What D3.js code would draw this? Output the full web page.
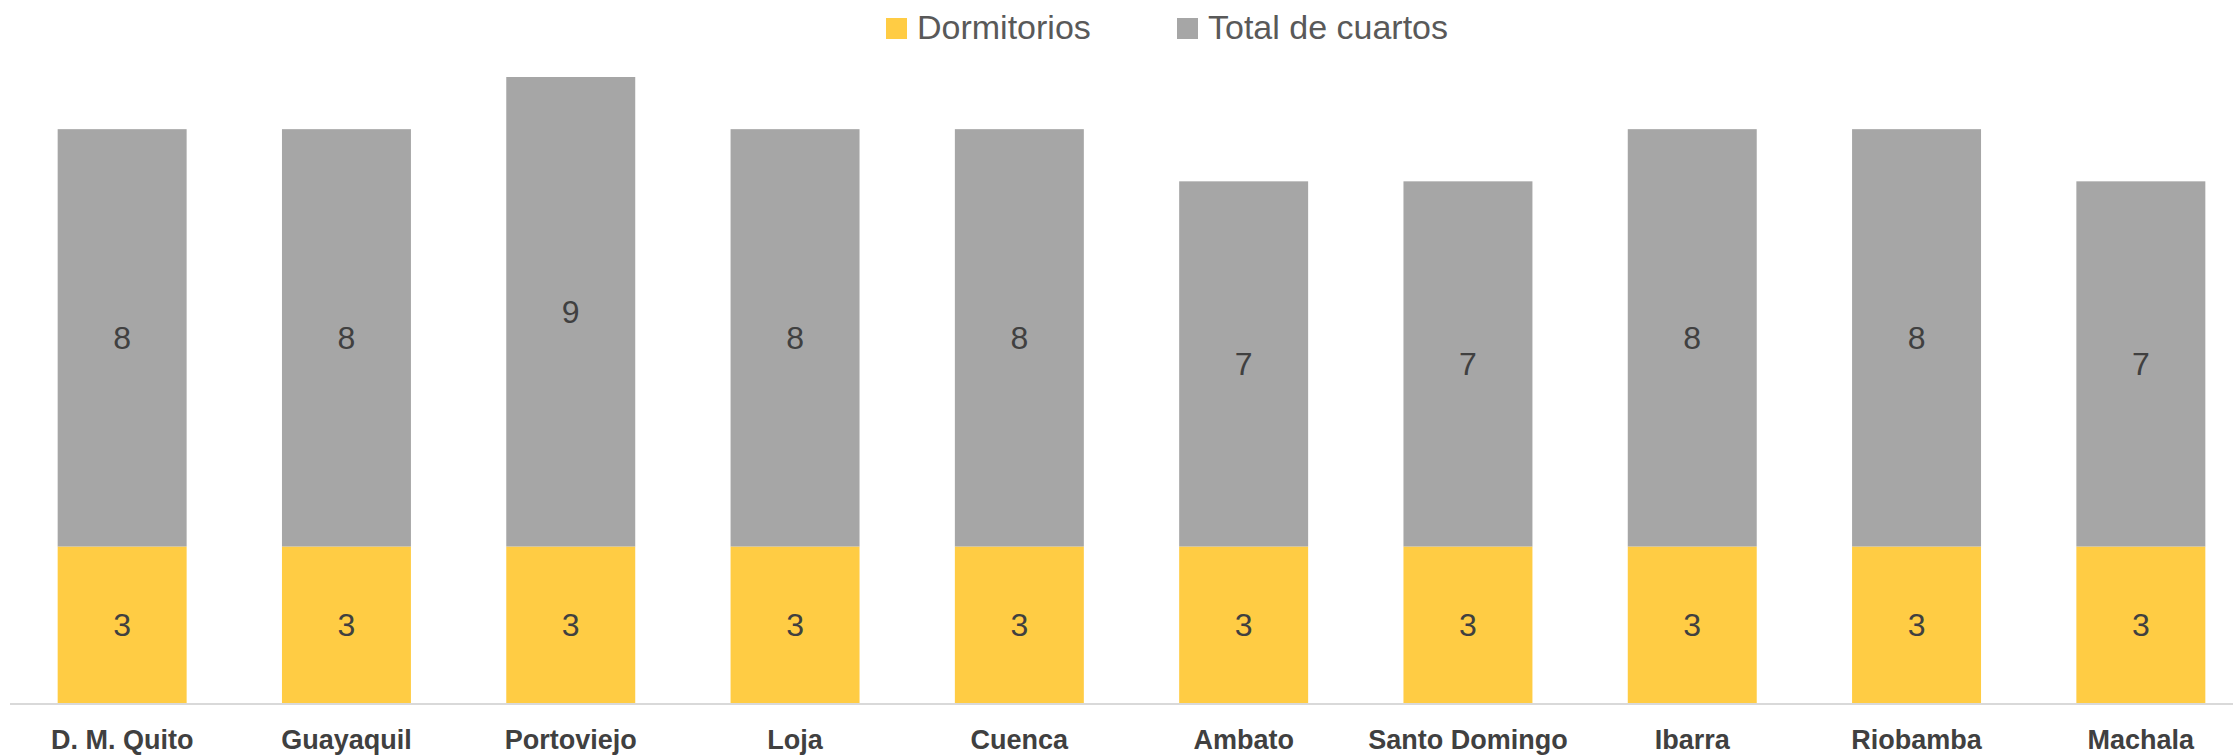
<!DOCTYPE html>
<meta charset="utf-8">
<style>
    body { margin: 0; background: #fff; }
    svg { display: block; }
</style>
<script src="https://d3js.org/d3.v7.min.js"></script>
<body>
<div id="chart"></div>
<script>
    // ciudades y valores (dormitorios abajo, total de cuartos encima)
    var ciudades = ["D. M. Quito", "Guayaquil", "Portoviejo", "Loja", "Cuenca",
                    "Ambato", "Santo Domingo", "Ibarra", "Riobamba", "Machala"];
    var dormitorios = [3, 3, 3, 3, 3, 3, 3, 3, 3, 3];
    var totalCuartos = [8, 8, 9, 8, 8, 7, 7, 8, 8, 7];
    var series = ["Dormitorios", "Total de cuartos"];

    var colores = { "Dormitorios": "#FFCC44", "Total de cuartos": "#A6A6A6" };

    var width = 2233, height = 756;

    var svg = d3.select("#chart").append("svg")
        .attr("width", width)
        .attr("height", height);

    // build rows for the stack
    var rows = ciudades.map(function (c, i) {
        return { ciudad: c, "Dormitorios": dormitorios[i], "Total de cuartos": totalCuartos[i] };
    });
    var stacked = d3.stack().keys(series)(rows);

    var x = d3.scaleBand()
        .domain(ciudades)
        .range([10, 2253])
        .paddingInner(0.425)
        .paddingOuter(0.2125);

    var y = d3.scaleLinear()
        .domain([0, 12])
        .range([703, 77]);

    // bars
    var layers = svg.selectAll("g.layer")
        .data(stacked)
        .enter().append("g")
        .attr("class", "layer")
        .attr("fill", function (d) { return colores[d.key]; });

    layers.selectAll("rect")
        .data(function (d) { return d; })
        .enter().append("rect")
        .attr("x", function (d) { return x(d.data.ciudad); })
        .attr("y", function (d) { return y(d[1]); })
        .attr("width", x.bandwidth())
        .attr("height", function (d) { return y(d[0]) - y(d[1]); });

    // value labels in the middle of each segment
    layers.selectAll("text")
        .data(function (d) { return d.map(function (p) { return { p: p, key: d.key }; }); })
        .enter().append("text")
        .attr("x", function (d) { return x(d.p.data.ciudad) + x.bandwidth() / 2; })
        .attr("y", function (d) { return (y(d.p[0]) + y(d.p[1])) / 2; })
        .attr("dy", "0.36em")
        .attr("text-anchor", "middle")
        .style("font-family", "'Liberation Sans', Arial, sans-serif")
        .style("font-size", "32px")
        .style("fill", "#404040")
        .text(function (d) { return d.p[1] - d.p[0]; });

    // x axis
    var xAxis = svg.append("g")
        .attr("transform", "translate(0," + y(0) + ")")
        .call(d3.axisBottom(x).tickSize(0).tickPadding(27));
    xAxis.select(".domain").remove();
    xAxis.append("line")
        .attr("x1", 10).attr("x2", width)
        .attr("y1", 1).attr("y2", 1)
        .attr("stroke", "#D9D9D9")
        .attr("stroke-width", 2);
    xAxis.selectAll("text")
        .style("font-family", "'Liberation Sans', Arial, sans-serif")
        .style("font-weight", "bold")
        .style("font-size", "27px")
        .style("fill", "#404040");

    // legend
    var legendX = [886, 1177];
    var legend = svg.selectAll("g.legend")
        .data(series)
        .enter().append("g")
        .attr("class", "legend")
        .attr("transform", function (d, i) { return "translate(" + legendX[i] + ",0)"; });
    legend.append("rect")
        .attr("x", 0).attr("y", 18)
        .attr("width", 21).attr("height", 21)
        .attr("fill", function (d) { return colores[d]; });
    legend.append("text")
        .attr("x", 31).attr("y", 39)
        .style("font-family", "'Liberation Sans', Arial, sans-serif")
        .style("font-size", "34px")
        .style("fill", "#595959")
        .text(function (d) { return d; });
</script>
</body>
